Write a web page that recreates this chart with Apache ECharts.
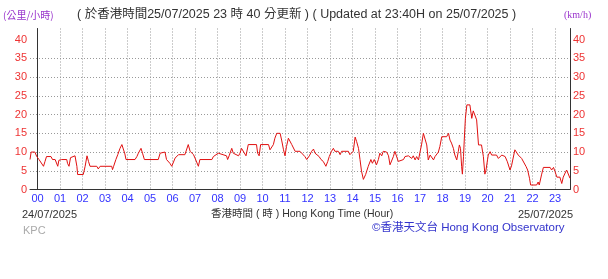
<!DOCTYPE html>
<html><head><meta charset="utf-8">
<script src="https://cdn.jsdelivr.net/npm/echarts@6/dist/echarts.min.js"></script>
<style>html,body{margin:0;padding:0;background:#fff}#c{width:608px;height:279px}</style>
</head><body><div id="c"></div>
<script>
// minutes from 00:00 on 25/07/2025 (negative = 24/07)
var minutes = [-20,-17,-7,-2,4,9,16,20,24,36,40,47,51,54,57,64,78,80,84,88,100,105,107,122,127,132,136,140,158,162,167,198,200,203,209,214,220,225,229,233,236,260,265,269,276,280,285,322,327,340,344,353,358,367,376,393,402,407,416,420,429,433,465,469,482,487,504,507,511,518,522,536,540,544,549,556,562,584,587,591,595,616,620,624,629,633,638,647,651,656,660,664,669,673,678,687,700,704,713,718,725,731,736,740,744,751,756,762,769,774,778,784,789,793,802,807,811,829,833,842,847,851,856,860,864,869,875,882,889,893,898,904,909,913,918,922,931,936,940,945,949,953,958,962,967,976,980,984,989,998,1002,1007,1011,1016,1020,1024,1029,1033,1038,1042,1047,1051,1056,1060,1064,1069,1073,1078,1091,1096,1100,1104,1109,1113,1118,1122,1125,1128,1131,1133,1136,1138,1141,1145,1149,1153,1158,1160,1162,1167,1171,1176,1184,1189,1193,1196,1200,1202,1207,1211,1224,1229,1238,1247,1253,1260,1264,1269,1273,1278,1282,1287,1291,1296,1303,1307,1312,1315,1331,1335,1338,1344,1349,1367,1371,1376,1380,1385,1393,1398,1402,1407,1411,1416,1420];
var speeds = [8,10,10,8.8,8,8.4,6.2,7.5,8.8,8.8,8,8,7.5,6.2,7.8,8,8,7,6.2,8.5,9,6.2,4,4,6.2,9,7.5,6.2,6.2,5.5,6.2,6.2,5.3,6.2,8,9.3,11,12,11.5,9.5,8,8,8.8,9.7,11,9.7,8,8,9.7,10,8,7,6.2,8.4,9.3,9.3,12,10.2,9.3,8.4,6.2,8,8,8.8,9.7,10,9,8,9,11,9.7,9,9.7,11,10.6,9,12,12,9.7,9,12,12,10.6,11,12,13.7,15,15,13.2,10.6,9,11.5,13.7,13.2,12,10.2,10.2,9.7,8.8,8,9,10.2,10.8,9.7,9.3,8.8,8,7.5,6.2,7.5,8.8,10.2,11,10.2,10.2,9.3,10.2,10.2,9.3,10.2,14,12.8,11,8,4.9,2.7,4,6.2,8,7,8,6.6,8,9.7,9,10.2,10,9,6.6,6.2,8.8,10.2,9.7,7.5,8,8,8.8,8.3,9,8.3,9,7.9,8.8,7.9,10,11.9,15,15,11.9,7.9,9.2,9.7,7.9,8.8,8.3,10,11.5,14.1,14.1,15,13.2,12.4,11,9.2,7.9,10.1,11.9,11,6.1,4.1,8.8,13.2,19,22.6,23,22.6,19,19,21,21,18.6,11.9,11.9,8.8,4.1,5.2,7.9,9.2,10.1,9.2,9.2,8.3,9.2,8.8,7.4,5.2,6.3,6.3,10.6,10.1,9.2,9.7,8.3,7.9,6.1,5.2,3,1.2,1.2,2,1.2,3.9,5.9,5.9,5.2,5.9,4.8,3.3,3.3,1.6,3.3,4.4,5.2,4.8,3];
var hourTicks = [0,60,120,180,240,300,360,420,480,540,600,660,720,780,840,900,960,1020,1080,1140,1200,1260,1320,1380];
var hourLabels = ['00','01','02','03','04','05','06','07','08','09','10','11','12','13','14','15','16','17','18','19','20','21','22','23'];
var yTicks = [0,5,10,15,20,25,30,35,40];

var data = minutes.map(function(m,i){return [m, speeds[i]];});
var chart = echarts.init(document.getElementById('c'), null, {renderer:'canvas'});
var yAx = function(pos){
  return {
    type:'value', position:pos, min:0, max:43,
    axisLine:{show:true, lineStyle:{color:'#333', width:1}},
    axisTick:{show:false, customValues:yTicks},
    axisLabel:{customValues:yTicks, color:'#ee3333', fontSize:11, fontFamily:'Liberation Sans', margin:3},
    splitLine:{show: pos==='left', showMaxLine:false, lineStyle:{color:'#999', type:[1,2], width:1}}
  };
};
chart.setOption({
  animation:false,
  grid:{left:30, right:38, top:28.5, bottom:89.5, containLabel:false},
  xAxis:{
    type:'value', min:-20, max:1420,
    axisLine:{show:true, onZero:false, lineStyle:{color:'#333', width:1}},
    axisTick:{show:false, customValues:hourTicks},
    axisLabel:{customValues:hourTicks, color:'#3333ff', fontSize:11, fontFamily:'Liberation Sans', margin:4,
      formatter:function(v){return hourLabels[hourTicks.indexOf(v)];}},
    splitLine:{show:true, lineStyle:{color:'#999', type:[1,2], width:1}}
  },
  yAxis:[yAx('left'), yAx('right')],
  series:[{type:'line', data:data, showSymbol:false, symbol:'none', lineStyle:{color:'#e01010', width:1}, itemStyle:{color:'#e01010'}}],
  graphic:[
    {type:'text', left:3, top:10, style:{text:'(公里/小時)', fill:'#9933cc', font:'10px "Noto Sans CJK TC"'}},
    {type:'text', left:77, top:8, style:{text:'( 於香港時間25/07/2025 23 時 40 分更新 ) ( Updated at 23:40H on 25/07/2025 )', fill:'#333', font:'12.5px "Liberation Sans", "Noto Sans CJK TC"'}},
    {type:'text', left:564, top:10, style:{text:'(km/h)', fill:'#9933cc', font:'10px "Liberation Serif"'}},
    {type:'text', left:22, top:209, style:{text:'24/07/2025', fill:'#333', font:'11px "Liberation Sans"'}},
    {type:'text', left:211, top:209, style:{text:'香港時間 ( 時 ) Hong Kong Time (Hour)', fill:'#333', font:'10.5px "Liberation Sans", "Noto Sans CJK TC"'}},
    {type:'text', right:35, top:209, style:{text:'25/07/2025', fill:'#333', font:'11px "Liberation Sans"'}},
    {type:'text', left:23, top:225, style:{text:'KPC', fill:'#aaa', font:'11px "Liberation Sans"'}},
    {type:'text', left:372, top:222, style:{text:'©香港天文台 Hong Kong Observatory', fill:'#3333cc', font:'11.5px "Liberation Sans", "Noto Sans CJK TC"'}}
  ]
});
</script></body></html>
